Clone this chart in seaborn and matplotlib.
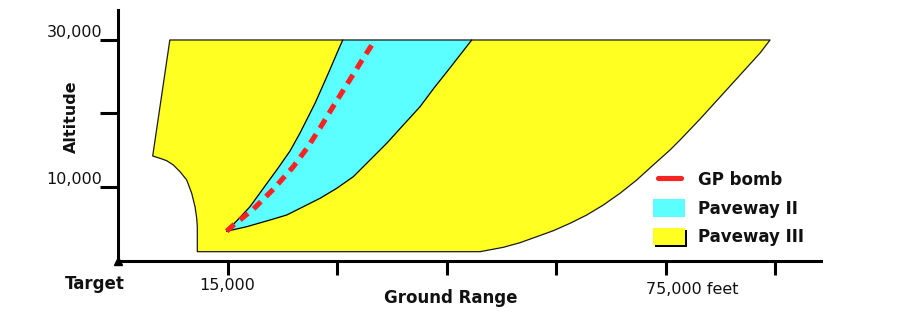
import numpy as np
import pandas as pd
import matplotlib
matplotlib.use("Agg")
import matplotlib.pyplot as plt
import seaborn as sns
from matplotlib.lines import Line2D
from matplotlib.patches import Patch
from matplotlib.legend_handler import HandlerLine2D
import matplotlib.patheffects as pe

# ---------------- data (feet) ----------------
# Paveway III envelope: left boundary (top-left corner down to bottom-left corner)
pw3_left_x = [7100, 4754, 5754, 6672, 7576, 8494, 9412, 10097, 10549, 10782, 10864, 10864]
pw3_left_y = [30000, 14218, 13904, 13578, 12993, 12081, 10952, 9143, 7320, 5741, 4599, 1200]
# Paveway III envelope: right boundary (bottom up to top-right corner)
pw3_right_x = [49594, 52786, 55074, 57362, 59636, 61920, 64212, 66485, 68766, 71054,
               73315, 75620, 76990, 79734, 82474, 85214, 87954, 89324]
pw3_right_y = [1200, 1796, 2422, 3238, 4054, 5061, 6190, 7550, 9143, 10952,
               12993, 15034, 16394, 19251, 22244, 25237, 28230, 30000]

# Paveway II envelope: left and right boundaries from the tip upwards
pw2_left_x = [14892, 16440, 18084, 19906, 21742, 23564, 24934, 26989, 28811, 30181, 30784]
pw2_left_y = [3986, 5578, 7320, 9823, 12313, 14900, 17346, 21387, 25469, 28639, 30000]
pw2_right_x = [14892, 17632, 20824, 23112, 25386, 27674, 29962, 32236, 34524, 36812,
               39086, 41374, 43292, 45251, 48457]
pw2_right_y = [3986, 4599, 5510, 6190, 7320, 8462, 9823, 11401, 13673, 15945,
               18435, 20924, 23469, 25918, 30000]

# GP bomb release curve
gp_x = [14892, 15796, 18536, 21276, 24016, 26030, 27674, 29455, 31551, 33428, 35209]
gp_y = [3986, 4803, 6980, 9701, 12761, 15482, 18026, 20924, 24258, 27251, 30000]

x_ticks = [15000, 30000, 45000, 60000, 75000, 90000]
x_tick_labels = ["15,000", "", "", "", "", ""]
y_ticks = [10000, 20000, 30000]
y_tick_labels = ["10,000", "", "30,000"]
far_tick_value = 75000
far_tick_label = "75,000 feet"
origin_label = "Target"
x_title = "Ground Range"
y_title = "Altitude"
series_names = ["GP bomb", "Paveway II", "Paveway III"]

YEL = "#ffff22"
CYAN = "#5cffff"
RED = "#f82222"

# ---------------- figure ----------------
sns.set_theme(style="white")
plt.rcParams["font.family"] = ["DejaVu Sans"]

fig = plt.figure(figsize=(9.05, 3.27), dpi=100)
ax = fig.add_axes([118 / 905, 66.5 / 327, 703 / 905, 250.5 / 327])

yel_x = pw3_left_x + pw3_right_x
yel_y = pw3_left_y + pw3_right_y
cy_x = pw2_left_x + pw2_right_x[::-1]
cy_y = pw2_left_y + pw2_right_y[::-1]

ax.fill(yel_x, yel_y, facecolor=YEL, edgecolor="none", zorder=1)
ax.fill(cy_x, cy_y, facecolor=CYAN, edgecolor="none", zorder=2)
ax.fill(yel_x, yel_y, facecolor="none", edgecolor="#1a1a1a", lw=0.9,
        joinstyle="round", zorder=3)

sns.lineplot(x=pw2_left_x, y=pw2_left_y, sort=False, estimator=None,
             color="black", lw=0.9, ax=ax, zorder=3)
sns.lineplot(x=pw2_right_x, y=pw2_right_y, sort=False, estimator=None,
             color="black", lw=0.9, ax=ax, zorder=3)
sns.lineplot(x=gp_x, y=gp_y, sort=False, estimator=None, color=RED,
             lw=3.7, linestyle=(0, (2.0, 1.4)), dash_capstyle="butt",
             ax=ax, zorder=4)

# origin marker
ax.plot([0], [0], marker="^", ms=6, color="black", clip_on=False, zorder=6)

ax.set_xlim(0, 96300)
ax.set_ylim(0, 34080)

sns.despine(ax=ax)
for s in ["left", "bottom"]:
    ax.spines[s].set_linewidth(2.2)
    ax.spines[s].set_color("black")

ax.set_xticks(x_ticks, x_tick_labels)
ax.set_yticks(y_ticks, y_tick_labels, va="bottom")
ax.tick_params(axis="y", left=True, length=13, width=2.2, direction="out",
               pad=-1.5, labelsize=11.5, color="black", labelcolor="#111111")
ax.tick_params(axis="x", bottom=True, length=10, width=2.2, direction="out",
               pad=2.9, labelsize=11.5, color="black", labelcolor="#111111")

ax.set_xlabel(x_title, fontsize=12, fontweight="bold", color="#111111")
ax.xaxis.set_label_coords(0.473, -0.114)
ax.set_ylabel(y_title, fontsize=11.5, fontweight="bold", color="#111111")
ax.yaxis.label.set_va("center")
ax.yaxis.set_label_coords(-0.066, 0.573)

ax.annotate(origin_label, xy=(0, 0), xytext=(-16.6, -16.9),
            textcoords="offset points", ha="center", va="center",
            fontsize=12, fontweight="bold", color="#111111")
ax.annotate(far_tick_label, xy=(far_tick_value, 0), xytext=(19.4, -21.2),
            textcoords="offset points", ha="center", va="center",
            fontsize=11.5, color="#111111")

# legend
h_gp = Line2D([], [], color=RED, lw=3.7, solid_capstyle="round")
h_p2 = Patch(facecolor=CYAN, edgecolor="none")
h_p3 = Patch(facecolor=YEL, edgecolor="none",
             path_effects=[pe.withSimplePatchShadow(offset=(1.2, -1.2),
                                                    shadow_rgbFace="black",
                                                    alpha=1.0)])
leg = ax.legend([h_gp, h_p2, h_p3], series_names,
                handler_map={h_gp: HandlerLine2D(marker_pad=0.27, numpoints=2)},
                loc="upper left", bbox_to_anchor=(653 / 905, 1 - 171 / 327),
                bbox_transform=fig.transFigure, frameon=False,
                borderpad=0, borderaxespad=0, handlelength=1.92,
                handleheight=1.2, handletextpad=0.75, labelspacing=0.62,
                prop={"weight": "bold", "size": 12})
for t in leg.get_texts():
    t.set_color("#111111")

fig.savefig("out.png", dpi=100)
